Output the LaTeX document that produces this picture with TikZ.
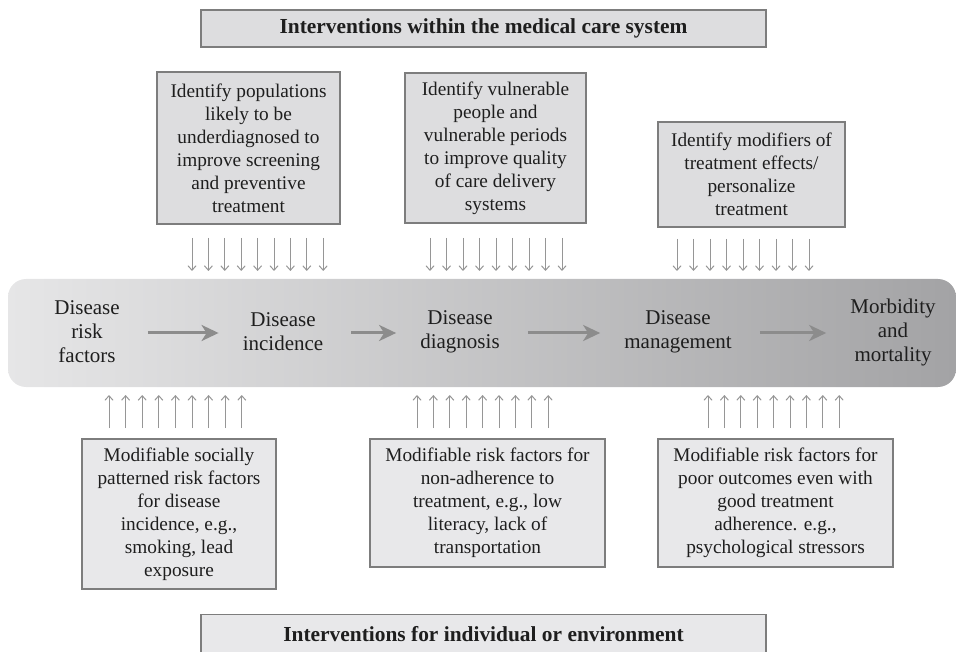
\documentclass[tikz,border=0pt]{standalone}
\usepackage{fontspec}
\setmainfont{Liberation Serif}
\usetikzlibrary{arrows.meta,shadings}
\definecolor{txt}{RGB}{30,30,30}
\definecolor{boxline}{RGB}{125,125,125}
\definecolor{topfill}{RGB}{221,221,223}
\definecolor{botfill}{RGB}{232,232,234}
\definecolor{arr}{RGB}{140,140,140}
\definecolor{sarr}{RGB}{150,150,150}
\definecolor{bandL}{RGB}{230,230,231}
\definecolor{bandR}{RGB}{163,163,165}
\tikzset{
  infobox/.style={draw=boxline, line width=1.2pt, inner sep=0pt, align=center,
    font=\fontsize{19.3}{23}\selectfont, text=txt},
  titlefont/.style={font=\fontsize{21.4}{24}\selectfont\bfseries},
  stagelabel/.style={inner sep=0pt, align=center, font=\fontsize{21}{24}\selectfont, text=txt},
  bandarrow/.style={draw=arr, line width=3pt, -{Stealth[length=17pt,width=16pt,inset=5pt]},
    shorten <=28pt, shorten >=24pt},
  smallarrow/.style={draw=sarr, line width=1pt, -{Straight Barb[length=4.5pt,width=8pt]}}
}
\begin{document}
\begin{tikzpicture}[x=1pt,y=-1pt]
\useasboundingbox (0,0) rectangle (956,652);
% title boxes
\node[infobox, fill=topfill, minimum width=565, minimum height=37, titlefont]
  (ttop) at (483.5,28.5) {Interventions within the medical care system};
\node[infobox, fill=botfill, minimum width=565, minimum height=56, anchor=north, text height=27pt, text depth=29pt,
  titlefont]
  (tbot) at (483.5,614) {Interventions for individual or environment};
% upper boxes
\node[infobox, fill=topfill, minimum width=183, minimum height=152] (u1) at (248.5,148)
  {Identify populations\\likely to be\\underdiagnosed to\\improve screening\\and preventive\\treatment};
\node[infobox, fill=topfill, minimum width=181, minimum height=150] (u2) at (495.5,148)
  {Identify vulnerable\\people and\\vulnerable periods\\to improve quality\\of care delivery\\systems};
\node[infobox, fill=topfill, minimum width=187, minimum height=105] (u3) at (751.5,174.5)
  {Identify modifiers of\\treatment effects/\\personalize\\treatment};
% lower boxes
\node[infobox, fill=botfill, minimum width=194, minimum height=150] (l1) at (179,514)
  {Modifiable socially\\patterned risk factors\\for disease\\incidence, e.g.,\\smoking, lead\\exposure};
\node[infobox, fill=botfill, minimum width=235, minimum height=128] (l2) at (487.5,503)
  {Modifiable risk factors for\\non-adherence to\\treatment, e.g., low\\literacy, lack of\\transportation};
\node[infobox, fill=botfill, minimum width=235, minimum height=128] (l3) at (775.5,503)
  {Modifiable risk factors for\\poor outcomes even with\\good treatment\\adherence. e.g.,\\psychological stressors};
% band
\shade[left color=bandL, right color=bandR, rounded corners=18pt] (8,279) rectangle (956,387);
\node[stagelabel] (s1) at (87,332) {Disease\\risk\\factors};
\node[stagelabel] (s2) at (283,332) {Disease\\incidence};
\node[stagelabel] (s3) at (460,332) {Disease\\diagnosis};
\node[stagelabel] (s4) at (678,332) {Disease\\management};
\node[stagelabel] (s5) at (893,332) {Morbidity\\and\\mortality};
\draw[bandarrow] (s1.east |- 0,333) -- (s2.west |- 0,333);
\draw[bandarrow] (s2.east |- 0,333) -- (s3.west |- 0,333);
\draw[bandarrow] (s3.east |- 0,333) -- (s4.west |- 0,333);
\draw[bandarrow] (s4.east |- 0,333) -- (s5.west |- 0,333);
% small arrows
\foreach \i in {0,...,8} {
  \draw[smallarrow] (192+16.4*\i,238) -- (192+16.4*\i,271);
  \draw[smallarrow] (430+16.5*\i,238) -- (430+16.5*\i,271);
  \draw[smallarrow] (677+16.5*\i,239) -- (677+16.5*\i,271);
  \draw[smallarrow] (109+16.6*\i,428) -- (109+16.6*\i,395);
  \draw[smallarrow] (417+16.4*\i,428) -- (417+16.4*\i,395);
  \draw[smallarrow] (708+16.4*\i,428) -- (708+16.4*\i,395);
}
\end{tikzpicture}
\end{document}
